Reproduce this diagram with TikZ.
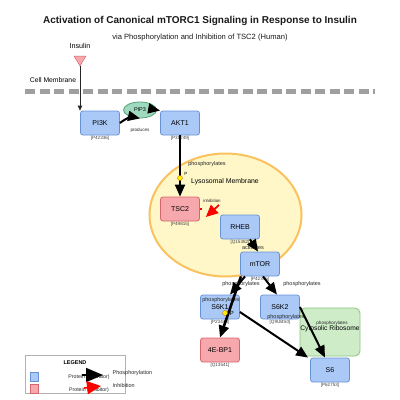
\documentclass[tikz,border=0pt]{standalone}
\usepackage{fontspec}
\setmainfont{Liberation Sans}
\usetikzlibrary{arrows.meta}
\usetikzlibrary{shapes.geometric}
\usetikzlibrary{positioning}
\definecolor{protF}{RGB}{170,201,247}
\definecolor{protB}{RGB}{104,146,214}
\definecolor{inhF}{RGB}{247,168,172}
\definecolor{inhB}{RGB}{214,102,110}
\definecolor{pipF}{RGB}{160,218,190}
\definecolor{pipB}{RGB}{84,160,120}
\definecolor{riboF}{RGB}{205,236,199}
\definecolor{riboB}{RGB}{140,196,128}
\definecolor{lysoF}{RGB}{255,247,200}
\definecolor{lysoB}{RGB}{249,194,94}

\begin{document}
\begin{tikzpicture}[x=1pt, y=-1pt,
    prot/.style={draw=protB, fill=protF, rounded corners=2.5pt, line width=0.8pt,
        minimum width=39pt, minimum height=24pt, inner sep=0pt,
        font=\fontsize{7}{8}\selectfont},
    inhprot/.style={prot, draw=inhB, fill=inhF},
    idlbl/.style={font=\fontsize{4.6}{5}\selectfont, text=black!75, inner sep=0pt},
    edgelbl/.style={font=\fontsize{5.5}{6}\selectfont, text=black!85, inner sep=0pt},
    phos/.style={-{Triangle[length=12pt,width=10pt]}, line width=2pt},
    inhib/.style={-{Triangle[length=12pt,width=11pt]}, line width=1.8pt, red},
    pdot/.style={circle, fill=yellow!95!orange, draw=orange!80!black, line width=0.3pt,
        inner sep=0pt, minimum size=5pt}]
    \useasboundingbox (0,0) rectangle (400,400);

    \node[font=\bfseries\fontsize{10}{11}\selectfont, text=black!90] (title) at (200,21)
        {Activation of Canonical mTORC1 Signaling in Response to Insulin};
    \node[font=\fontsize{7.6}{8}\selectfont, text=black!90] (sub) at (200,38)
        {via Phosphorylation and Inhibition of TSC2 (Human)};

    % membranes
    \draw[gray!75, line width=5pt, dash pattern=on 10pt off 4.5pt] (25,91) -- (375,91);
    \node[font=\fontsize{6.8}{7}\selectfont] (cellm) at (53,80) {Cell Membrane};
    \node[ellipse, draw=lysoB, fill=lysoF, line width=2pt, inner sep=0pt,
        minimum width=152pt, minimum height=123pt] (lyso) at (225.5,215) {};
    \node[font=\fontsize{6.9}{7}\selectfont] (lysol) at (225,182) {Lysosomal Membrane};
    \node[draw=riboB, fill=riboF, rounded corners=5pt, line width=0.8pt,
        minimum width=60pt, minimum height=48pt] (ribo) at (330,332) {};
    \node[font=\fontsize{6.7}{7}\selectfont] (ribol) at (330,329) {Cytosolic Ribosome};
    \node[edgelbl, font=\fontsize{4.6}{5}\selectfont] at (332,323) {phosphorylates};

    % insulin
    \node[font=\fontsize{7.2}{8}\selectfont] (insl) at (80,46) {Insulin};
    \fill[inhF, draw=inhB, line width=0.5pt] (74,56) -- (86,56) -- (80,66) -- cycle;
    \coordinate (insTip) at (80,66);

    % proteins
    \node[prot] (pik) at (100,123) {PI3K};
    \node[ellipse, draw=pipB, fill=pipF, line width=0.8pt, minimum width=33pt,
        minimum height=16pt, inner sep=0pt, font=\fontsize{5.5}{6}\selectfont] (pip) at (140,110) {PIP3};
    \node[prot] (akt) at (180,123) {AKT1};
    \node[inhprot] (tsc) at (180,209) {TSC2};
    \node[prot] (rheb) at (240,227) {RHEB};
    \node[prot] (mtor) at (260,264) {mTOR};
    \node[prot] (sk1) at (220,307) {S6K1};
    \node[prot] (sk2) at (280,307) {S6K2};
    \node[inhprot] (ebp) at (220,350) {4E-BP1};
    \node[prot] (rps) at (330,370) {S6};

    \foreach \n/\id in {pik/P42336, akt/P31749, tsc/P49815, rheb/Q15382, mtor/P42345,
        sk1/P23443, sk2/Q9UBS0, ebp/Q13541, rps/P62753}
        \node[idlbl] at ([yshift=-2.5pt]\n.south) {[\id]};

    % edge labels
    \node[edgelbl, font=\fontsize{4.6}{5}\selectfont] at (140,130) {produces};
    \node[edgelbl] at (207,164) {phosphorylates};
    \node[edgelbl, font=\fontsize{4.4}{5}\selectfont] at (212,201) {inhibition};
    \node[edgelbl] at (253,247.5) {activates};
    \node[edgelbl] at (241,284) {phosphorylates};
    \node[edgelbl] at (302,284) {phosphorylates};
    \node[edgelbl] at (221,300) {phosphorylates};
    \node[edgelbl] at (286,317) {phosphorylates};

    % interactions
    \draw[-{Triangle[length=5pt,width=4.5pt]}, line width=0.9pt, black!85] (insTip) -- (insTip |- pik.north);
    \draw[phos] (pik.east) to[bend left=25] (pip.south);
    \draw[phos] (pip.east) -- (akt.north west);
    \draw[phos] (akt.south) -- (tsc.north);
    \node[pdot] (pa) at (180,178) {};
    \node[font=\fontsize{4.5}{5}\selectfont, inner sep=0pt] at (186,174) {P};

    \coordinate (inhA) at (219,205);
    \coordinate (inhB) at ([xshift=6pt,yshift=-8pt]tsc.east);
    \draw[red, line width=1.2pt] (tsc.east) -- ++(2.5pt,0);
    \draw[inhib] (inhA) -- (inhB);

    \draw[phos] ([xshift=10pt]rheb.south) -- ([xshift=-2pt]mtor.north);
    \draw[phos] ([xshift=-15pt]mtor.south) -- ([xshift=10pt]sk1.north);
    \draw[phos, line width=2.6pt] ([xshift=-19pt]mtor.south) -- (ebp.north);
    \draw[phos] ([xshift=3pt]mtor.south) -- ([xshift=-3pt]sk2.north);
    \draw[phos] ([yshift=-5pt]sk1.east) -- ([xshift=-2pt]rps.north west);
    \draw[phos] (sk2.east) -- ([xshift=-5pt]rps.north);
    \node[pdot] (ps) at (225,313) {};
    \node[font=\fontsize{6}{7}\selectfont, inner sep=0pt] at (232,313) {P};

    % legend
    \node[draw=black!30, fill=white, minimum width=100pt, minimum height=38pt, inner sep=0pt] (leg) at (75,374) {};
    \node[font=\bfseries\fontsize{5.5}{6}\selectfont] at (75,363) {LEGEND};
    \fill[protF, draw=protB, line width=0.4pt] (30,372) rectangle (38,381);
    \fill[inhF, draw=inhB, line width=0.4pt] (30,384) rectangle (38,393);
    \node[edgelbl, font=\fontsize{5.2}{6}\selectfont] at (89,377) {Protein (activator)};
    \node[edgelbl, font=\fontsize{5.2}{6}\selectfont] at (89,390) {Protein (inhibitor)};
    \coordinate (lgA) at (82,375);
    \coordinate (lgB) at (103,375);
    \coordinate (lgC) at (84,388);
    \coordinate (lgD) at (101,386);
    \draw[-{Triangle[length=17pt,width=14pt]}, line width=1.6pt] (lgA) -- (lgB);
    \draw[-{Triangle[length=14pt,width=13pt]}, line width=1.6pt, red] (lgC) -- (lgD);
    \node[edgelbl, anchor=west] at (112.5,373) {Phosphorylation};
    \node[edgelbl, anchor=west] at (112.5,386) {Inhibition};
\end{tikzpicture}
\end{document}
